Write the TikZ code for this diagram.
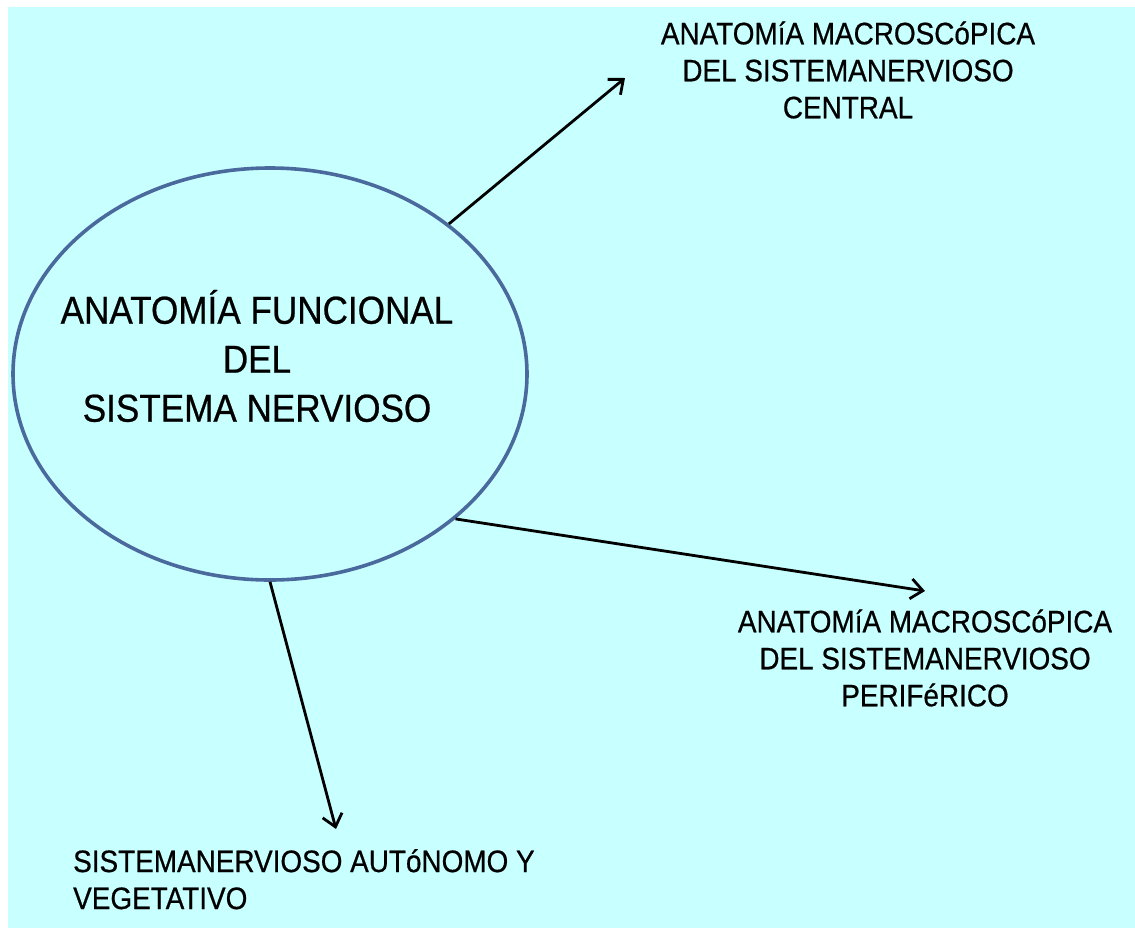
\documentclass[tikz,border=0pt]{standalone}
\usepackage{fontspec}
\setmainfont{Liberation Sans}
\newfontfamily\slidefont[FakeStretch=0.9, FakeBold=0.6]{Liberation Sans}
\usepackage{tikz}
\usetikzlibrary{shapes.geometric}
\usetikzlibrary{positioning}
\usetikzlibrary{calc,arrows.meta}
\definecolor{sn-bg}{HTML}{C8FFFF}
\definecolor{sn-line}{HTML}{4A6A9E}
\definecolor{sn-text}{HTML}{000000}

\begin{document}
\begin{tikzpicture}[
    x=1pt, y=-1pt, % slide pixel grid, y running down
    font=\slidefont\fontsize{31}{37}\selectfont,
    >={Straight Barb[length=12pt,width=20pt]}
  ]

  % Global Style Definitions
  \tikzset{
    hub/.style={draw=sn-line, line width=3.6pt, ellipse, minimum width=514pt, minimum height=412pt, inner sep=0pt},
    hubtext/.style={align=center, inner sep=0pt, text=sn-text, font=\slidefont\fontsize{39}{49}\selectfont},
    branch/.style={align=center, inner sep=0pt, text=sn-text},
    link/.style={->, line width=2.8pt, sn-text}
  }

  % Slide background
  \useasboundingbox (0,0) rectangle (1135,927);
  \fill[sn-bg] (8,7) rectangle (1136,928);

  % Central ellipse and its label
  \node (sn)     [hub] at (270,374) {};
  \node (sntext) [hubtext] at (257,356) {ANATOMÍA FUNCIONAL\\DEL\\SISTEMA NERVIOSO};

  % Branch labels
  \node (snc) [branch] at (848,70) {ANATOMíA MACROSCóPICA\\DEL SISTEMANERVIOSO\\CENTRAL};
  \node (snp) [branch] at (925,658) {ANATOMíA MACROSCóPICA\\DEL SISTEMANERVIOSO\\PERIFéRICO};
  \node (sna) [branch, align=left, anchor=north west] at (73,849) {SISTEMANERVIOSO AUTóNOMO Y\\VEGETATIVO};

  % Arrow tips next to the labels
  \coordinate (tipc) at (625,78);
  \coordinate (tipp) at (925,591);
  \coordinate (tipa) at (336,829);

  % Connections
  \draw[link] (sn.40) -- (tipc);
  \draw[link] (sn.-38) -- (tipp);
  \draw[link] (sn.south) -- (tipa);

\end{tikzpicture}
\end{document}
